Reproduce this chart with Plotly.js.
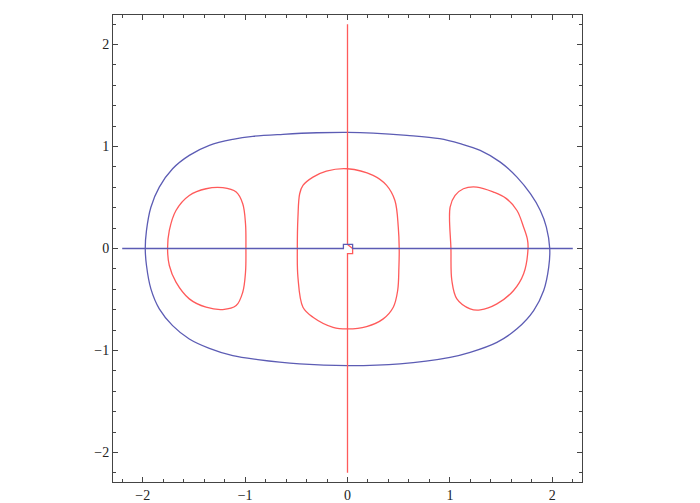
<!DOCTYPE html>
<html>
<head>
<meta charset="utf-8">
<script src="https://cdn.plot.ly/plotly-3.0.1.min.js"></script>
<style>
  body { margin: 0; background: #fff; }
  #plot { width: 700px; height: 503px; }
</style>
</head>
<body>
<div id="plot"></div>
<script>
// outer blue contour (closed loop)
var blueLoopX = [-1.975, -1.963, -1.92, -1.838, -1.708, -1.545, -1.349, -1.12, -0.925, -0.63, -0.30, 0,
                 0.25, 0.58, 0.90, 1.10, 1.296, 1.492, 1.655, 1.786, 1.883, 1.942, 1.975,
                 1.965, 1.916, 1.818, 1.655, 1.459, 1.198, 1.002, 0.512, 0,
                 -0.467, -0.876, -1.12, -1.349, -1.545, -1.708, -1.838, -1.92, -1.963, -1.975];
var blueLoopY = [0, 0.177, 0.405, 0.602, 0.782, 0.913, 1.011, 1.07, 1.10, 1.12, 1.135, 1.139,
                 1.132, 1.11, 1.077, 1.028, 0.962, 0.847, 0.70, 0.537, 0.373, 0.209, 0,
                 -0.183, -0.412, -0.609, -0.788, -0.92, -1.018, -1.067, -1.132, -1.149,
                 -1.132, -1.09, -1.051, -0.979, -0.887, -0.756, -0.592, -0.396, -0.167, 0];

// horizontal blue line with the little step at the origin
var blueLineX = [-2.2, -0.04, -0.04, 0.05, 0.05, 2.2];
var blueLineY = [0, 0, 0.04, 0.04, 0, 0];

// vertical red line with its jog at the origin
var redLineX = [0, 0, 0.05, 0.05, 0, 0];
var redLineY = [2.2, 0.04, 0, -0.05, -0.05, -2.2];

// middle red loop
var midLoopX = [-0.49, -0.484, -0.467, -0.435, -0.337, -0.206, 0, 0.25, 0.382, 0.463, 0.496, 0.505,
                0.502, 0.49, 0.447, 0.349, 0.186, 0, -0.141, -0.337, -0.435, -0.484, -0.49];
var midLoopY = [0, 0.307, 0.537, 0.619, 0.70, 0.759, 0.782, 0.717, 0.619, 0.471, 0.209, 0,
                -0.183, -0.412, -0.576, -0.69, -0.766, -0.789, -0.773, -0.674, -0.576, -0.282, 0];

// left red loop
var leftLoopX = [-1.757, -1.74, -1.675, -1.545, -1.381, -1.218, -1.087, -1.023, -0.996, -0.992,
                 -0.996, -1.023, -1.087, -1.218, -1.381, -1.545, -1.675, -1.74, -1.757];
var leftLoopY = [0, 0.177, 0.373, 0.52, 0.586, 0.596, 0.553, 0.439, 0.242, 0,
                 -0.233, -0.429, -0.56, -0.599, -0.576, -0.494, -0.33, -0.167, 0];

// right red loop
var rightLoopX = [1.01, 1.002, 1.051, 1.132, 1.263, 1.426, 1.545, 1.655, 1.72, 1.757, 1.763,
                  1.72, 1.622, 1.459, 1.296, 1.198, 1.068, 1.019, 1.01];
var rightLoopY = [0, 0.406, 0.52, 0.586, 0.602, 0.553, 0.494, 0.373, 0.209, 0.09, 0,
                  -0.248, -0.412, -0.543, -0.602, -0.592, -0.494, -0.314, 0];

var blue = '#5c5cb4';
var red = '#ff5a5a';

function curve(x, y, color) {
    return {
        x: x, y: y,
        type: 'scatter',
        mode: 'lines',
        line: {color: color, width: 1.3, shape: 'spline', smoothing: 1},
        hoverinfo: 'none'
    };
}

var data = [
    curve(blueLoopX, blueLoopY, blue),
    curve(leftLoopX, leftLoopY, red),
    curve(midLoopX, midLoopY, red),
    curve(rightLoopX, rightLoopY, red),
    {x: redLineX, y: redLineY, type: 'scatter', mode: 'lines', line: {color: red, width: 1.3}, hoverinfo: 'none'},
    {x: blueLineX, y: blueLineY, type: 'scatter', mode: 'lines', line: {color: blue, width: 1.3}, hoverinfo: 'none'}
];

var axisStyle = {
    range: [-2.29, 2.29],
    showgrid: false,
    zeroline: false,
    showline: true,
    linecolor: '#444',
    linewidth: 1,
    mirror: 'allticks',
    ticks: 'inside',
    ticklen: 5,
    tickcolor: '#444',
    dtick: 1,
    tick0: 0,
    minor: {ticks: 'inside', ticklen: 3, dtick: 0.2, tickcolor: '#444', showgrid: false},
    tickfont: {family: '"Liberation Serif", "Times New Roman", serif', size: 14, color: '#222'}
};

var layout = {
    width: 700,
    height: 503,
    margin: {l: 113, r: 118, t: 15, b: 21},
    showlegend: false,
    paper_bgcolor: '#fff',
    plot_bgcolor: '#fff',
    xaxis: Object.assign({}, axisStyle, {ticklabelstandoff: 0}),
    yaxis: Object.assign({}, axisStyle)
};

Plotly.newPlot('plot', data, layout, {staticPlot: true});
</script>
</body>
</html>
